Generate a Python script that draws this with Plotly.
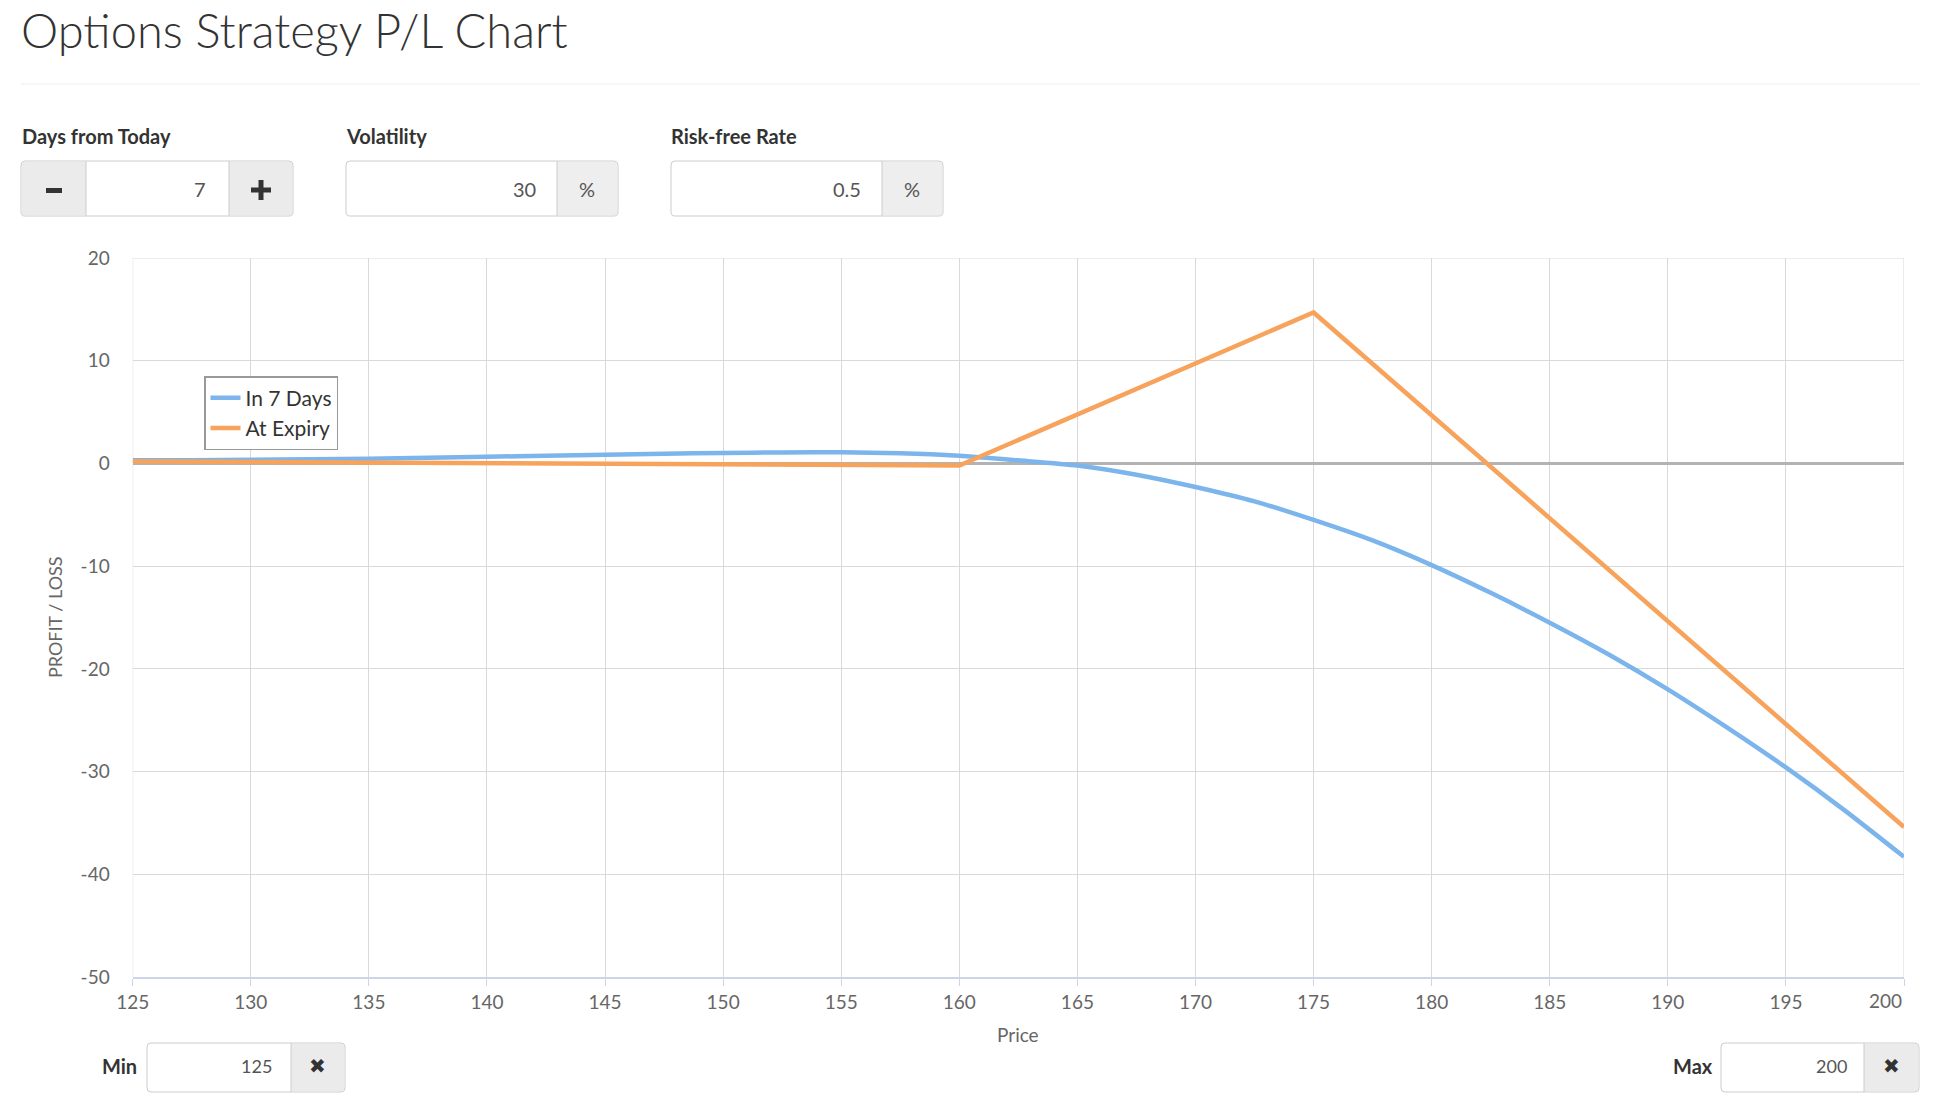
import plotly.graph_objects as go

# ---------------- data ----------------
price_7d = [125, 127.5, 130, 132.5, 135, 137.5, 140, 142.5, 145, 147.5, 150, 152.5,
            155, 157.5, 160, 162.5, 165, 167.5, 170, 172.5, 175, 177.5, 180, 182.5,
            185, 187.5, 190, 192.5, 195, 197.5, 200]
pl_7d = [0.3, 0.3, 0.35, 0.4, 0.45, 0.55, 0.65, 0.75, 0.85, 0.95, 1.02, 1.07,
         1.08, 1.0, 0.75, 0.3, -0.2, -1.1, -2.3, -3.7, -5.5, -7.5, -9.9, -12.6,
         -15.5, -18.6, -22.0, -25.7, -29.6, -33.8, -38.3]
price_exp = [125, 160, 175, 200]
pl_exp = [0.2, -0.2, 14.7, -35.4]

x_ticks = [125, 130, 135, 140, 145, 150, 155, 160, 165, 170, 175, 180, 185, 190, 195, 200]
y_ticks = [-50, -40, -30, -20, -10, 0, 10, 20]

W, H = 1936, 1103
def px(x):
    return x / W
def py(y):
    return 1 - y / H

CHART_FONT = "Lato"
UI_FONT = "Lato, Noto Sans, sans-serif"

fig = go.Figure()
fig.add_trace(go.Scatter(x=price_7d, y=pl_7d, mode="lines", name="In 7 Days",
                         line=dict(color="#7cb5ec", width=4.5, shape="spline", smoothing=0.6),
                         hoverinfo="skip"))
fig.add_trace(go.Scatter(x=price_exp, y=pl_exp, mode="lines", name="At Expiry",
                         line=dict(color="#f7a35c", width=4.5),
                         hoverinfo="skip"))

shapes = []
annotations = []

def rrect_path(x0, y0, x1, y1, r=4):
    pts = [
        ("M", x0 + r, y0), ("L", x1 - r, y0), ("Q", x1, y0, x1, y0 + r),
        ("L", x1, y1 - r), ("Q", x1, y1, x1 - r, y1), ("L", x0 + r, y1),
        ("Q", x0, y1, x0, y1 - r), ("L", x0, y0 + r), ("Q", x0, y0, x0 + r, y0),
    ]
    s = ""
    for p in pts:
        cmd = p[0]
        vals = p[1:]
        coords = []
        for i in range(0, len(vals), 2):
            coords.append(f"{px(vals[i]):.6f},{py(vals[i+1]):.6f}")
        s += cmd + " " + " ".join(coords) + " "
    return s + "Z"

def rect(x0, y0, x1, y1, fill, line_color=None, lw=0):
    shapes.append(dict(type="rect", xref="paper", yref="paper",
                       x0=px(x0), x1=px(x1), y0=py(y1), y1=py(y0),
                       fillcolor=fill, line=dict(color=line_color or fill, width=lw),
                       layer="above"))

def vline(x, y0, y1, color="#cccccc", w=1):
    shapes.append(dict(type="line", xref="paper", yref="paper",
                       x0=px(x), x1=px(x), y0=py(y0), y1=py(y1),
                       line=dict(color=color, width=w), layer="above"))

def text(x, y, s, size, color="#333", bold=False, xanchor="left", family=UI_FONT,
         weight=None, yanchor="middle"):
    annotations.append(dict(xref="paper", yref="paper", x=px(x), y=py(y), text=s,
                            showarrow=False, xanchor=xanchor, yanchor=yanchor,
                            font=dict(family=family, size=size, color=color,
                                      weight=weight if weight else ("bold" if bold else "normal"))))

def outer_box(x0, y0, x1, y1):
    shapes.append(dict(type="path", xref="paper", yref="paper", path=rrect_path(x0, y0, x1, y1),
                       fillcolor="white", line=dict(color="#cccccc", width=1), layer="above"))

# ---- header ----
text(19, 0, "Options Strategy P/L Chart", 47, color="#333", family=UI_FONT, weight=300,
     yanchor="top")
shapes.append(dict(type="line", xref="paper", yref="paper", x0=px(21), x1=px(1920),
                   y0=py(84), y1=py(84), line=dict(color="#eeeeee", width=1), layer="above"))

# ---- Days from Today ----
text(20, 136, "Days from Today", 20, bold=True)
outer_box(21, 161, 293, 216)
rect(22, 162, 86, 215, "#ebebeb")
rect(229, 162, 292, 215, "#ebebeb")
vline(86, 161, 216)
vline(229, 161, 216)
rect(46, 188, 62, 193, "#333333")          # minus glyph
rect(251, 187.5, 271, 192.5, "#333333")    # plus horizontal
rect(258.5, 180, 263.5, 200, "#333333")    # plus vertical
text(208, 189, "7", 20, color="#555", xanchor="right")

# ---- Volatility ----
text(344, 136, "Volatility", 20, bold=True)
outer_box(346, 161, 618, 216)
rect(557, 162, 617, 215, "#eeeeee")
vline(557, 161, 216)
text(538, 189, "30", 20, color="#555", xanchor="right")
text(587, 189, "%", 20, color="#555", xanchor="center")

# ---- Risk-free Rate ----
text(669, 136, "Risk-free Rate", 20, bold=True)
outer_box(671, 161, 943, 216)
rect(882, 162, 942, 215, "#eeeeee")
vline(882, 161, 216)
text(863, 189, "0.5", 20, color="#555", xanchor="right")
text(912, 189, "%", 20, color="#555", xanchor="center")

# ---- Min / Max ----
text(139, 1066, "Min", 20, bold=True, xanchor="right")
outer_box(147, 1043, 345, 1092)
rect(291, 1044, 344, 1091, "#ebebeb")
vline(291, 1043, 1092)
text(274, 1066, "125", 18, color="#555", xanchor="right")
text(317, 1066, "✖", 20, color="#333", xanchor="center", family="DejaVu Sans")

text(1715, 1066, "Max", 20, bold=True, xanchor="right")
outer_box(1721, 1043, 1919, 1092)
rect(1864, 1044, 1918, 1091, "#ebebeb")
vline(1864, 1043, 1092)
text(1849, 1066, "200", 18, color="#555", xanchor="right")
text(1891, 1066, "✖", 20, color="#333", xanchor="center", family="DejaVu Sans")

# ---- axis titles ----
text(1018, 1034, "Price", 19, color="#666", xanchor="center", family=CHART_FONT)
annotations.append(dict(xref="paper", yref="paper", x=px(55), y=py(617), text="PROFIT / LOSS",
                        showarrow=False, textangle=-90, xanchor="center", yanchor="middle",
                        font=dict(family=CHART_FONT, size=18, color="#666")))

# plot frame lines (grid at range edges)
grid_c = "#d9d9d9"
shapes.append(dict(type="line", xref="x", yref="y", x0=125, x1=200, y0=20, y1=20,
                   line=dict(color=grid_c, width=1), layer="below"))
shapes.append(dict(type="line", xref="x", yref="y", x0=125, x1=125, y0=-50, y1=20,
                   line=dict(color=grid_c, width=1), layer="below"))
shapes.append(dict(type="line", xref="x", yref="y", x0=200, x1=200, y0=-50, y1=20,
                   line=dict(color=grid_c, width=1), layer="below"))

tick_font = dict(family=CHART_FONT, size=19, color="#666")

# last x tick label is right-aligned to the plot edge (as in the reference)
x_ticktext = [str(v) for v in x_ticks[:-1]] + [""]
annotations.append(dict(xref="x", yref="paper", x=x_ticks[-1], y=py(1000), text=str(x_ticks[-1]),
                        showarrow=False, xanchor="right", yanchor="middle", font=tick_font))

fig.update_layout(
    width=W, height=H,
    margin=dict(l=0, r=0, t=0, b=0, autoexpand=False),
    paper_bgcolor="white", plot_bgcolor="white",
    showlegend=True,
    legend=dict(x=px(204), y=py(376), xanchor="left", yanchor="top",
                bordercolor="#999999", borderwidth=1.5, bgcolor="white",
                font=dict(family=CHART_FONT, size=21, color="#333"),
                itemwidth=30, traceorder="normal"),
    xaxis=dict(domain=[px(132.7), px(1904)], range=[125, 200], automargin=False,
               tickmode="array", tickvals=x_ticks, ticktext=x_ticktext,
               showgrid=True, gridcolor=grid_c, gridwidth=1,
               showline=True, linecolor="#ccd6eb", linewidth=2,
               ticks="outside", ticklen=7, tickcolor="#ccd6eb", tickwidth=1,
               tickfont=tick_font,
               zeroline=False, fixedrange=True),
    yaxis=dict(domain=[py(977), py(258)], range=[-50, 20], automargin=False,
               tickmode="array", tickvals=y_ticks, ticktext=[str(v) for v in y_ticks],
               showgrid=True, gridcolor=grid_c, gridwidth=1,
               showline=False, ticks="", ticklabelstandoff=22,
               tickfont=tick_font,
               zeroline=True, zerolinecolor="#b3b3b3", zerolinewidth=3, fixedrange=True),
    shapes=shapes,
    annotations=annotations,
    hovermode=False,
)

fig.write_html("out.html", config={"displayModeBar": False},
               post_script="document.body.style.margin='0';document.body.style.overflow='hidden';")
